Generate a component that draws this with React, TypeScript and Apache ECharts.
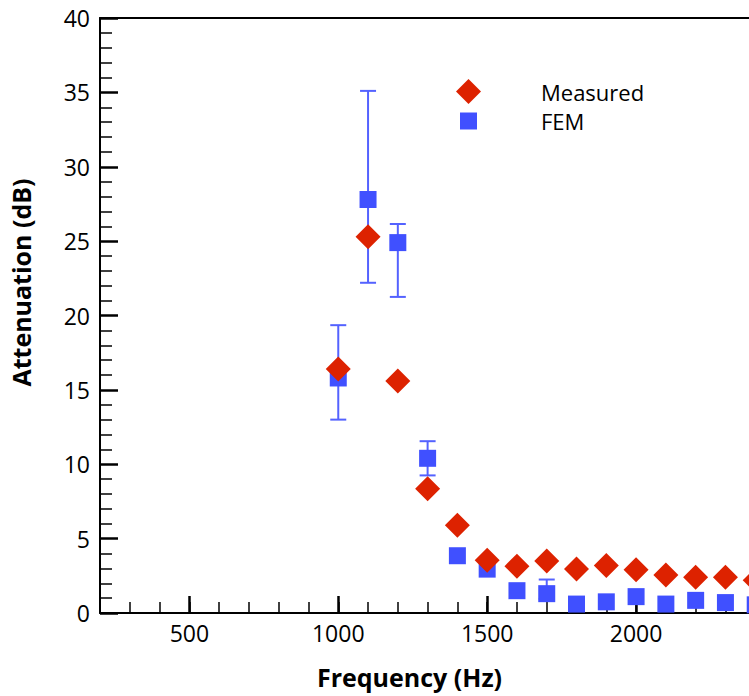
import React, { useEffect, useRef } from "react";
import * as echarts from "echarts";

const freq = [1000, 1100, 1200, 1300, 1400, 1500, 1600, 1700, 1800, 1900, 2000, 2100, 2200, 2300, 2400];
const measured = [16.4, 25.3, 15.6, 8.35, 5.9, 3.55, 3.15, 3.5, 2.95, 3.2, 2.9, 2.55, 2.4, 2.4, 2.2];
const fem = [15.8, 27.8, 24.9, 10.4, 3.85, 2.95, 1.5, 1.3, 0.6, 0.75, 1.1, 0.6, 0.85, 0.7, 0.55];
const errFreq = [1000, 1100, 1200, 1300, 1700];
const errLow = [13.0, 22.2, 21.25, 9.25, 0.95];
const errHigh = [19.35, 35.1, 26.15, 11.55, 2.25];
const xMajorTicks = [500, 1000, 1500, 2000, 2500];
const xLabelTicks = [500, 1000, 1500, 2000];

const FONT = "'Open Sans', sans-serif";
const RED = "#dd2200";
const BLUE = "#4050ff";
const ERR = "#5462ff";

export default function App() {
  const ref = useRef<HTMLDivElement>(null);
  useEffect(() => {
    if (!ref.current) return;
    const chart = echarts.init(ref.current, null, { renderer: "svg" });
    const option: any = {
      animation: false,
      backgroundColor: "#ffffff",
      grid: {
        left: 100,
        top: 18,
        bottom: 83,
        right: -36,
        containLabel: false,
        outerBoundsMode: "none",
      },
      legend: [
        {
          data: ["Measured"],
          left: 456,
          top: 79,
          itemWidth: 25,
          itemHeight: 25,
          itemGap: 0,
          padding: 0,
          textStyle: { fontFamily: FONT, fontSize: 22, color: "#000", padding: [0, 0, 0, 55] },
        },
        {
          data: ["FEM"],
          left: 460,
          top: 110,
          itemWidth: 17,
          itemHeight: 17,
          itemGap: 0,
          padding: 0,
          textStyle: { fontFamily: FONT, fontSize: 22, color: "#000", padding: [0, 0, 0, 59] },
        },
      ],
      xAxis: [
        {
          type: "value",
          min: 200,
          max: 2500,
          interval: 100,
          position: "bottom",
          name: "Frequency (Hz)",
          nameLocation: "middle",
          nameGap: 51,
          nameTextStyle: {
            fontFamily: FONT,
            fontSize: 25,
            fontWeight: "bold",
            color: "#000",
            padding: [0, 66, 0, 0],
          },
          axisLine: { show: true, lineStyle: { color: "#000", width: 2 } },
          axisTick: { show: true, inside: true, length: 11, lineStyle: { color: "#000", width: 1.5 } },
          axisLabel: {
            show: true,
            fontFamily: FONT,
            fontSize: 23,
            color: "#000",
            margin: 8,
            formatter: (v: number) => (xLabelTicks.indexOf(v) >= 0 ? String(v) : ""),
          },
          splitLine: { show: false },
        },
        {
          type: "value",
          min: 200,
          max: 2500,
          position: "bottom",
          axisLine: { show: false },
          axisTick: {
            show: true,
            inside: true,
            length: 17,
            customValues: xMajorTicks,
            lineStyle: { color: "#000", width: 2.5 },
          },
          axisLabel: { show: false },
          splitLine: { show: false },
        },
        {
          type: "value",
          min: 200,
          max: 2500,
          position: "top",
          axisLine: { show: true, lineStyle: { color: "#000", width: 2 } },
          axisTick: { show: false },
          axisLabel: { show: false },
          splitLine: { show: false },
        },
      ],
      yAxis: {
        type: "value",
        min: 0,
        max: 40,
        interval: 5,
        name: "Attenuation (dB)",
        nameLocation: "middle",
        nameGap: 67,
        nameTextStyle: {
          fontFamily: FONT,
          fontSize: 25,
          fontWeight: "bold",
          color: "#000",
          padding: [0, 0, 0, 66],
        },
        axisLine: { show: true, lineStyle: { color: "#000", width: 2 } },
        axisTick: { show: true, inside: true, length: 18, lineStyle: { color: "#000", width: 2.5 } },
        minorTick: { show: true, splitNumber: 5, length: 12, lineStyle: { color: "#000", width: 1.5 } },
        axisLabel: { fontFamily: FONT, fontSize: 23, color: "#000", margin: 10 },
        splitLine: { show: false },
      },
      series: [
        {
          type: "custom",
          name: "err",
          xAxisIndex: 0,
          silent: true,
          data: errFreq.map((f, i) => [f, errLow[i], errHigh[i]]),
          renderItem: (params: any, api: any) => {
            const x = api.value(0);
            const lo = api.coord([x, api.value(1)]);
            const hi = api.coord([x, api.value(2)]);
            const hw = 8;
            const style = { stroke: ERR, lineWidth: 2 };
            return {
              type: "group",
              children: [
                { type: "line", shape: { x1: lo[0], y1: lo[1], x2: hi[0], y2: hi[1] }, style },
                { type: "line", shape: { x1: lo[0] - hw, y1: lo[1], x2: lo[0] + hw, y2: lo[1] }, style },
                { type: "line", shape: { x1: hi[0] - hw, y1: hi[1], x2: hi[0] + hw, y2: hi[1] }, style },
              ],
            };
          },
          z: 1,
        },
        {
          type: "scatter",
          name: "FEM",
          symbol: "rect",
          symbolSize: 17,
          itemStyle: { color: BLUE, opacity: 1 },
          data: freq.map((f, i) => [f, fem[i]]),
          z: 2,
        },
        {
          type: "scatter",
          name: "Measured",
          symbol: "diamond",
          symbolSize: 25,
          itemStyle: { color: RED, opacity: 1 },
          data: freq.map((f, i) => [f, measured[i]]),
          z: 3,
        },
      ],
    };
    chart.setOption(option);
    return () => chart.dispose();
  }, []);
  return (
    <div
      ref={ref}
      style={{ position: "absolute", left: 0, top: 0, width: 749, height: 696, overflow: "hidden" }}
    />
  );
}
